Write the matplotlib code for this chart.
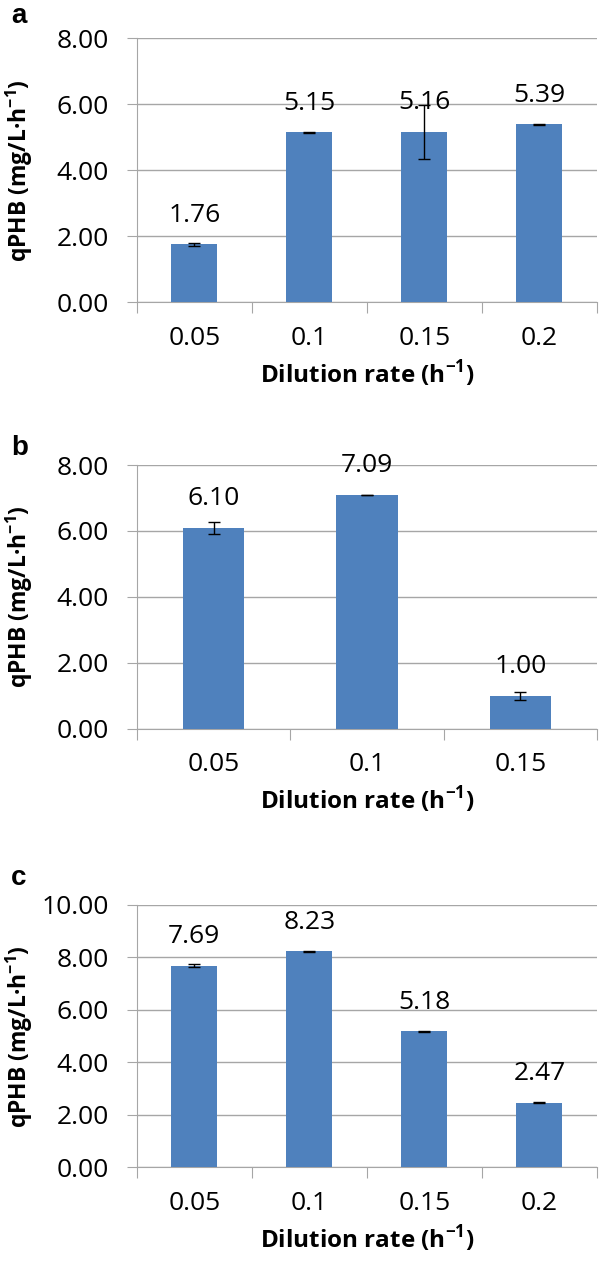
import numpy as np
import matplotlib
matplotlib.use("Agg")
import matplotlib.pyplot as plt

plt.rcParams['font.family'] = ['Open Sans', 'DejaVu Sans']
plt.rcParams['mathtext.fontset'] = 'custom'
plt.rcParams['mathtext.rm'] = 'Open Sans'
plt.rcParams['mathtext.bf'] = 'Open Sans:bold'

# --- data ---
rates_a = ['0.05', '0.1', '0.15', '0.2']
qphb_a = [1.76, 5.15, 5.16, 5.39]
err_a = [0.05, 0.01, 0.82, 0.01]

rates_b = ['0.05', '0.1', '0.15']
qphb_b = [6.10, 7.09, 1.00]
err_b = [0.18, 0.01, 0.12]

rates_c = ['0.05', '0.1', '0.15', '0.2']
qphb_c = [7.69, 8.23, 5.18, 2.47]
err_c = [0.07, 0.01, 0.02, 0.01]

BAR = '#4F81BD'
GRID = '#a6a6a6'
H = 1265.0


def panel(fig, rect, cats, vals, errs, ymax, letter, letter_y):
    ax = fig.add_axes(rect)
    x = np.arange(len(cats))
    ax.bar(x, vals, width=0.4, color=BAR, zorder=3)
    ax.errorbar(x, vals, yerr=errs, fmt='none', ecolor='black',
                elinewidth=1, capsize=4, capthick=1, zorder=4)
    # value labels above the bars
    for xi, v in zip(x, vals):
        ax.annotate(f'{v:.2f}', (xi, v), xytext=(0, 21), textcoords='offset points',
                    ha='center', va='center', fontsize=19)
    ax.set_xlim(-0.5, len(cats) - 0.5)
    ax.set_ylim(0, ymax)
    yt = np.arange(0, ymax + 0.1, 2)
    ax.set_yticks(yt)
    ax.set_yticklabels([f'{t:.2f}' for t in yt])
    # tick marks between categories, labels under the bars
    ax.set_xticks(np.arange(-0.5, len(cats), 1))
    ax.set_xticklabels([])
    ax.set_xticks(x, minor=True)
    ax.set_xticklabels(cats, minor=True)
    ax.tick_params(axis='x', which='minor', length=0, pad=17, labelsize=19)
    ax.tick_params(axis='x', which='major', length=8, color=GRID, direction='out')
    ax.tick_params(axis='y', length=7, color=GRID, pad=13, labelsize=19)
    ax.grid(axis='y', color=GRID, linewidth=1, zorder=0)
    for s in ['top', 'right']:
        ax.spines[s].set_visible(False)
    for s in ['left', 'bottom']:
        ax.spines[s].set_color(GRID)
    ax.set_xlabel('Dilution rate (h$^{\\mathbf{-1}}$)', fontsize=17.5,
                  fontweight='bold', labelpad=5)
    ax.set_ylabel('qPHB (mg/L·h$^{\\mathbf{-1}}$)', fontsize=16.5,
                  fontweight='bold')
    ax.yaxis.set_label_coords(-0.222, 0.5)
    fig.text(0.018, 1 - letter_y / H, letter, fontsize=20,
             fontweight='bold', family='Liberation Sans', va='baseline')
    return ax


fig = plt.figure(figsize=(6, 12.65), dpi=100)
panel(fig, [0.228, 0.761, 0.767, 0.2087], rates_a, qphb_a, err_a, 8, 'a', 23)
panel(fig, [0.228, 0.4241, 0.767, 0.2083], rates_b, qphb_b, err_b, 8, 'b', 455)
panel(fig, [0.228, 0.0771, 0.767, 0.2075], rates_c, qphb_c, err_c, 10, 'c', 885)

fig.savefig('out.png', dpi=100)
